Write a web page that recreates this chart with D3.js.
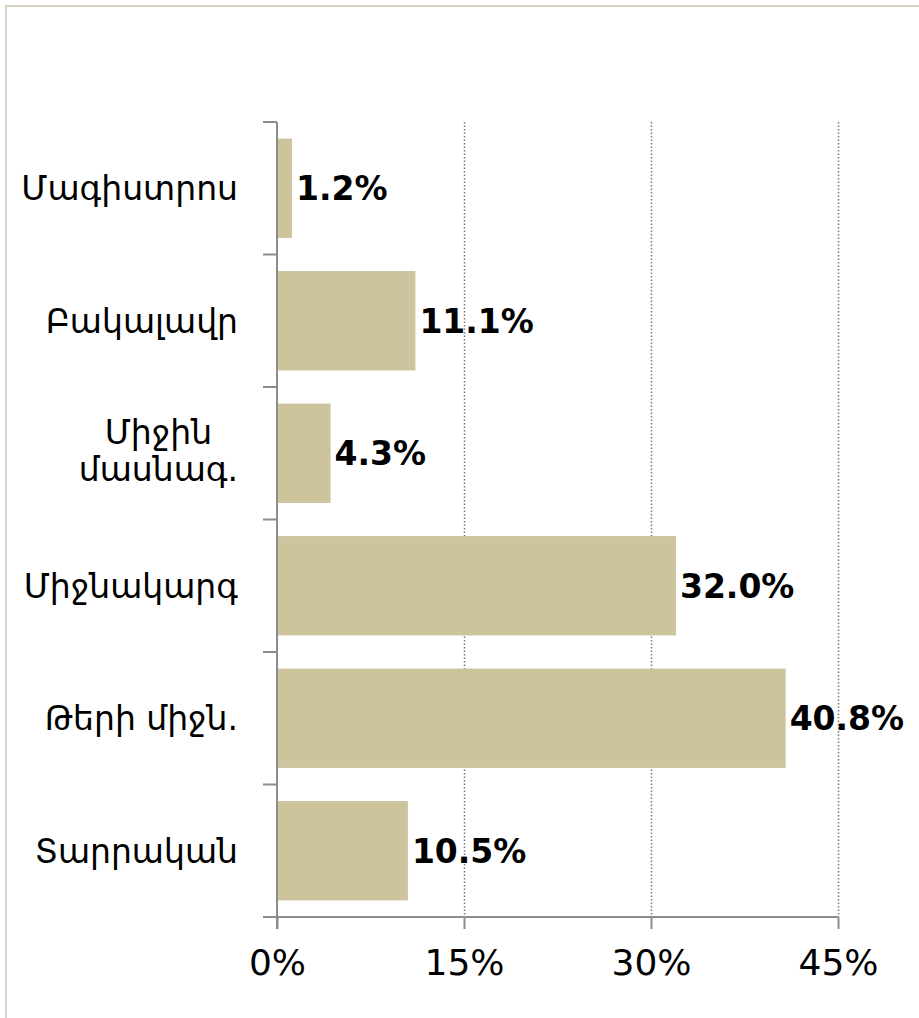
<!DOCTYPE html>
<html>
<head>
<meta charset="utf-8">
<script src="https://cdn.jsdelivr.net/npm/d3@7"></script>
<style>
  body { margin: 0; background: #fff; }
  text { font-family: "DejaVu Sans", sans-serif; }
</style>
</head>
<body>
<svg width="919" height="1018"></svg>
<script>
var categories = [["Մագիստրոս"], ["Բակալավր"], ["Միջին", "մասնագ."], ["Միջնակարգ"], ["Թերի միջն."], ["Տարրական"]];
var values = [1.2, 11.1, 4.3, 32.0, 40.8, 10.5];
var tickValues = [0, 15, 30, 45];

var svg = d3.select("svg"),
    width = +svg.attr("width"),
    height = +svg.attr("height");

var margin = {top: 122, left: 277, bottom: 101, right: 81};

// outer frame (only top and left visible)
svg.append("rect")
    .attr("x", 6).attr("y", 6)
    .attr("width", width + 20).attr("height", height + 20)
    .attr("fill", "none")
    .attr("stroke", "#d9d1c3")
    .attr("stroke-width", 2);

var x = d3.scaleLinear()
    .domain([0, 45])
    .range([margin.left, width - margin.right]);

var y = d3.scaleBand()
    .domain(categories.map(function(d, i) { return i; }))
    .range([margin.top, height - margin.bottom])
    .paddingInner(0.25)
    .paddingOuter(0.125);

var y0 = margin.top, y1 = height - margin.bottom;

// dotted gridlines
svg.append("g")
    .selectAll("line")
    .data(tickValues.slice(1))
    .enter().append("line")
    .attr("x1", function(d) { return x(d) + 0.5; })
    .attr("x2", function(d) { return x(d) + 0.5; })
    .attr("y1", y0)
    .attr("y2", y1)
    .attr("stroke", "#7a7a7a")
    .attr("stroke-width", 1.5)
    .attr("stroke-dasharray", "1.5,2");

// bars
svg.append("g")
    .selectAll("rect")
    .data(values)
    .enter().append("rect")
    .attr("x", x(0))
    .attr("y", function(d, i) { return y(i); })
    .attr("width", function(d) { return x(d) - x(0); })
    .attr("height", y.bandwidth())
    .attr("fill", "#cdc49e");

// y axis: line + outward ticks at band boundaries
var yAxis = svg.append("g").attr("stroke", "#8c8c8c").attr("stroke-width", 2);
yAxis.append("line")
    .attr("x1", x(0)).attr("x2", x(0))
    .attr("y1", y0).attr("y2", y1 + 12);
var bounds = d3.range(categories.length + 1).map(function(i) { return y0 + i * y.step(); });
yAxis.selectAll(".tk")
    .data(bounds)
    .enter().append("line")
    .attr("x1", x(0) - 14).attr("x2", x(0))
    .attr("y1", function(d) { return d; })
    .attr("y2", function(d) { return d; });

// x axis
var xAxis = d3.axisBottom(x)
    .tickValues(tickValues)
    .tickSize(12)
    .tickPadding(20)
    .tickFormat(function(d) { return d + "%"; });

var gx = svg.append("g")
    .attr("transform", "translate(0," + y1 + ")")
    .call(xAxis);
gx.select(".domain").remove();
gx.append("line")
    .attr("x1", x(0) - 14).attr("x2", x(45))
    .attr("stroke", "#8c8c8c").attr("stroke-width", 2);
gx.selectAll(".tick line").attr("stroke", "#8c8c8c").attr("stroke-width", 2);
gx.selectAll(".tick text")
    .attr("fill", "#000")
    .style("font-family", "DejaVu Sans")
    .style("font-size", "36px");

// category labels (multi-line ones are centred as a block, right edge at 238)
var labels = svg.append("g")
    .selectAll("text")
    .data(categories)
    .enter().append("text")
    .attr("fill", "#000")
    .style("font-size", "33px")
    .attr("text-anchor", "middle");

labels.each(function(lines, i) {
    var t = d3.select(this);
    var cy = y(i) + y.bandwidth() / 2;
    var lh = 37;
    var w = 0;
    lines.forEach(function(s, k) {
        var ts = t.append("tspan")
            .attr("x", 0)
            .attr("y", cy + 12 + (k - (lines.length - 1) / 2) * lh - (lines.length > 1 ? 3 : 0))
            .text(s);
        w = Math.max(w, ts.node().getComputedTextLength());
    });
    t.selectAll("tspan").attr("x", 238 - w / 2);
});

// value labels
svg.append("g")
    .selectAll("text")
    .data(values)
    .enter().append("text")
    .attr("x", function(d) { return x(d) + 4; })
    .attr("y", function(d, i) { return y(i) + y.bandwidth() / 2 + 12; })
    .attr("fill", "#000")
    .style("font-size", "33px")
    .style("font-weight", "bold")
    .text(function(d) { return d.toFixed(1) + "%"; });
</script>
</body>
</html>
